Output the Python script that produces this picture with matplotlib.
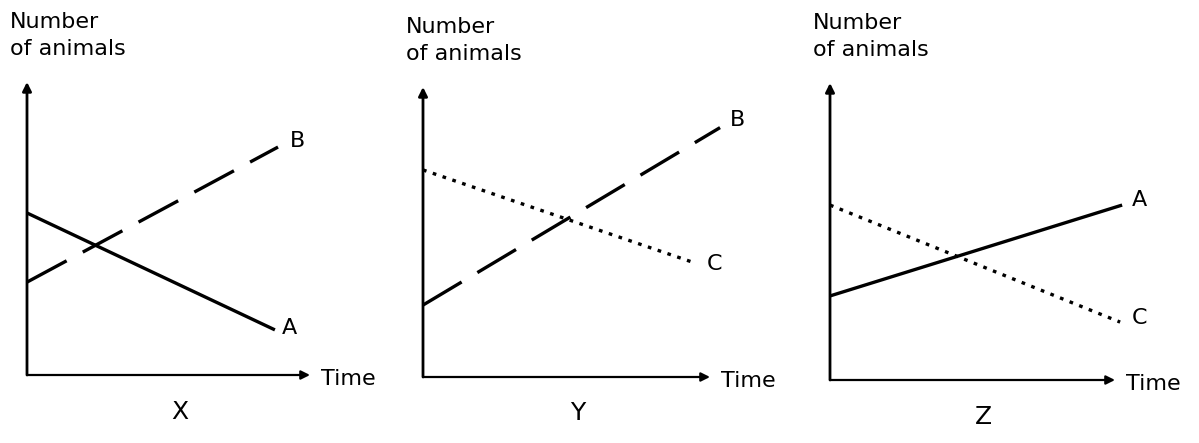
import matplotlib.pyplot as plt

# values (axis length = 10 units on both axes)
panels = ["X", "Y", "Z"]

# panel X
x_time_A = [0, 8.76]
x_A = [5.53, 1.54]
x_time_B = [0, 8.87]
x_B = [3.17, 7.78]

# panel Y
y_time_B = [0, 10.35]
y_B = [2.48, 8.6]
y_time_C = [0, 9.48]
y_C = [7.14, 3.93]

# panel Z
z_time_A = [0, 10.25]
z_A = [2.83, 5.89]
z_time_C = [0, 10.18]
z_C = [5.89, 1.95]

# label positions for curve names
x_labels = [("B", 9.29, 7.99), ("A", 9.01, 1.60)]
y_labels = [("B", 10.7, 8.86), ("C", 9.9, 3.9)]
z_labels = [("A", 10.6, 6.06), ("C", 10.6, 2.09)]

W, H = 1199, 443
fig = plt.figure(figsize=(W / 100, H / 100), dpi=100)

# axes boxes in pixels: origin x, origin y, x length, y length
boxes = [(27, 375, 283, 293), (423, 377, 287, 290), (830, 380, 285, 297)]

styles = {
    "A": dict(color="black", lw=2.4, linestyle="-", solid_capstyle="butt"),
    "B": dict(color="black", lw=2.4, linestyle=(0, (13.5, 5.5)), dash_capstyle="butt"),
    "C": dict(color="black", lw=2.4, linestyle=(0, (1.1, 2.0)), dash_capstyle="butt"),
}

data = [
    [("A", x_time_A, x_A), ("B", x_time_B, x_B)],
    [("B", y_time_B, y_B), ("C", y_time_C, y_C)],
    [("A", z_time_A, z_A), ("C", z_time_C, z_C)],
]
labels = [x_labels, y_labels, z_labels]

for (ox, oy, w, h), name, series, labs in zip(boxes, panels, data, labels):
    ax = fig.add_axes([ox / W, (H - oy) / H, w / W, h / H])
    ax.set_xlim(0, 10)
    ax.set_ylim(0, 10)
    ax.axis("off")

    # axes arrows
    ax.annotate("", xy=(10, 0), xytext=(0, 0),
                arrowprops=dict(arrowstyle="-|>", lw=1.6, color="black",
                                mutation_scale=13, shrinkA=0, shrinkB=0),
                annotation_clip=False)
    ax.annotate("", xy=(0, 10), xytext=(0, 0),
                arrowprops=dict(arrowstyle="-|>", lw=2.0, color="black",
                                mutation_scale=13, shrinkA=0, shrinkB=0),
                annotation_clip=False)

    for key, t, v in series:
        ax.plot(t, v, clip_on=False, **styles[key])

    for txt, lx, ly in labs:
        ax.text(lx, ly, txt, fontsize=16, ha="left", va="center")

    ax.text(10.4, -0.15, "Time", fontsize=16, ha="left", va="center")
    ax.text(-0.6, 10 + 70 / h * 10, "Number\nof animals", fontsize=16,
            ha="left", va="top", linespacing=1.45)
    ax.text(5.4, -1.25, name, fontsize=18, ha="center", va="center")

fig.savefig("out.png", dpi=100, facecolor="white")
